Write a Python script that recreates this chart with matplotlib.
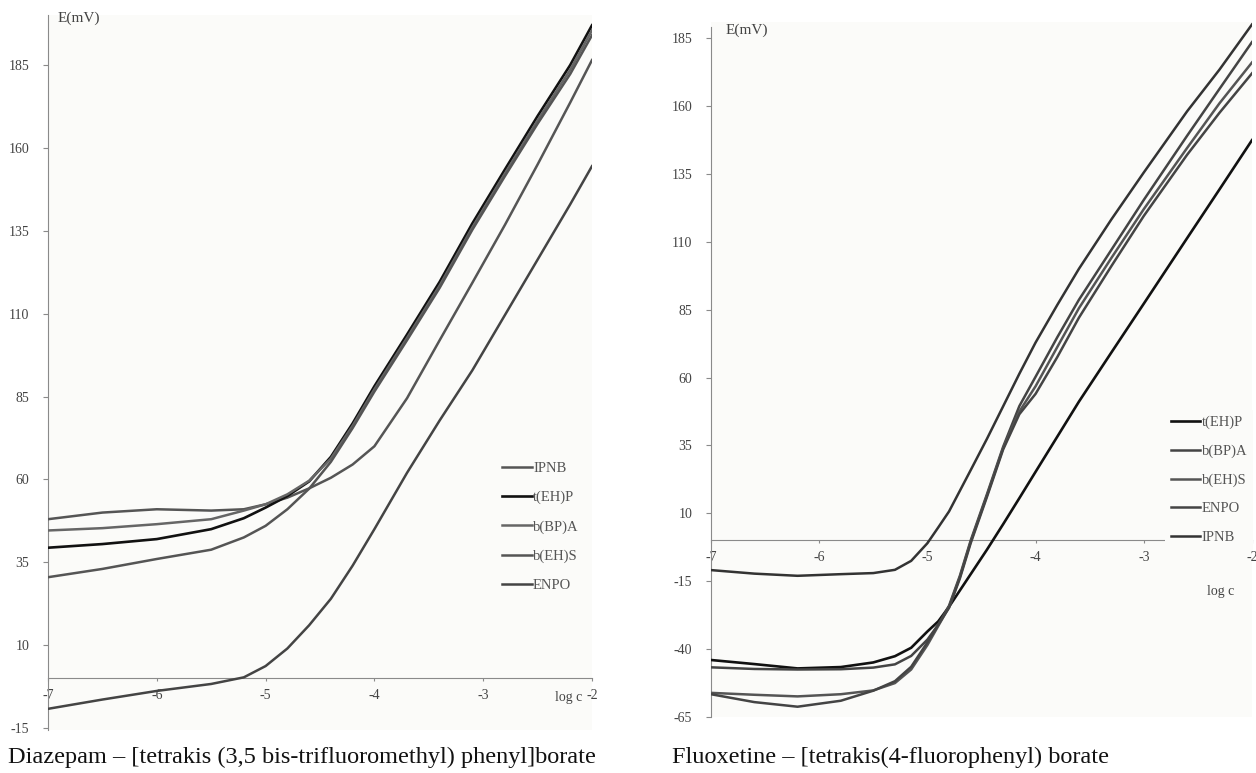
import matplotlib
matplotlib.use('agg')
import matplotlib.pyplot as plt

plt.rcParams['font.family'] = ['Liberation Serif', 'DejaVu Serif']
plt.rcParams['axes.unicode_minus'] = False

# log c grid and potentials (mV)
diaz_logc = [-7, -6.5, -6, -5.5, -5.2, -5.0, -4.8, -4.6, -4.4, -4.2, -4.0,
             -3.7, -3.4, -3.1, -2.8, -2.5, -2.2, -2.0]
diaz_ipnb = [48, 50, 51, 50.6, 51, 52.5, 54.5, 57.3, 60.5, 64.5, 70,
             84.5, 102, 119.3, 136.8, 155, 173.7, 186.5]
diaz_tehp = [39.4, 40.5, 42, 45, 48.3, 51.5, 55, 59.4, 66.8, 76.9, 88.1,
             103.7, 119.6, 137.2, 153.5, 169.6, 185, 197]
diaz_bbpa = [44.6, 45.3, 46.5, 48, 50.6, 52.5, 55.5, 59.6, 66.3, 76.2, 87.2,
             102.7, 118.5, 136, 152.3, 168.3, 183.6, 195.5]
diaz_behs = [30.5, 33, 36, 38.8, 42.5, 46, 51, 57.2, 65.3, 75.5, 86.5,
             102, 117.8, 135.3, 151.5, 167.3, 182.3, 194]
diaz_enpo = [-9.2, -6.4, -3.8, -1.7, 0.3, 3.7, 9, 16, 24, 34, 45,
             62, 77.8, 92.9, 109.6, 126.3, 143, 154.5]

fluox_logc = [-7, -6.6, -6.2, -5.8, -5.5, -5.3, -5.15, -5.0, -4.9, -4.8, -4.7,
              -4.6, -4.45, -4.3, -4.15, -4.0, -3.8, -3.6, -3.3, -3.0, -2.6, -2.3, -2.0]
fluox_tehp = [-44, -45.5, -47.1, -46.6, -44.9, -42.6, -39.5, -33.5, -29.8, -24.4, -18.4,
              -12.4, -3.4, 6, 15.6, 25.3, 38.2, 51.1, 69.2, 87.2, 111.3, 129.3, 147.4]
fluox_bbpa = [-46.7, -47.3, -47.5, -47.4, -46.8, -45.6, -42.5, -36.5, -31, -24, -13,
              0, 17, 34.5, 49.5, 60.3, 74.8, 88.6, 107, 125.4, 149, 166.3, 183.5]
fluox_behs = [-56.1, -56.8, -57.4, -56.6, -55.2, -52.5, -47.5, -38.5, -31.5, -24.5, -13.5,
              -0.5, 16.5, 34, 47.5, 56.8, 71.2, 85.5, 104, 122, 144.5, 161, 176]
fluox_enpo = [-56.6, -59.5, -61.2, -59, -55.3, -51.8, -46.5, -37.5, -31, -24.8, -14,
              -1, 16, 33.5, 46.5, 54, 67.5, 82, 101, 119.5, 142, 157.5, 172]
fluox_ipnb = [-10.9, -12.2, -13, -12.4, -12, -10.8, -7.5, -1, 4.8, 10.7, 18.3,
              25.9, 37.4, 49.4, 61.4, 72.9, 86.7, 100, 118.2, 135.5, 158, 173.4, 190]

x_ticks = [-7, -6, -5, -4, -3, -2]
x_labels = ['-7', '-6', '-5', '-4', '-3', '-2']
diaz_yticks = [-15, 10, 35, 60, 85, 110, 135, 160, 185]
fluox_yticks = [-65, -40, -15, 10, 35, 60, 85, 110, 135, 160, 185]

W, H = 1256, 773
fig = plt.figure(figsize=(W / 100, H / 100), dpi=100)
fig.patch.set_facecolor('white')

tick_col = '#444444'
leg_kw = dict(fontsize=10.5, handlelength=2.05, handletextpad=0.1,
              borderaxespad=0, labelcolor='#555555')


def style_axes(ax, ylim, yticks, top):
    ax.set_facecolor('#fbfbf9')
    ax.set_xlim(-7, -2)
    ax.set_ylim(*ylim)
    for s in ['top', 'right']:
        ax.spines[s].set_visible(False)
    ax.spines['left'].set_color('#8a8a8a')
    ax.spines['left'].set_bounds(ylim[0], top)
    ax.spines['bottom'].set_color('#8a8a8a')
    ax.spines['bottom'].set_position(('data', 0))
    ax.set_xticks(x_ticks)
    ax.set_xticklabels(x_labels)
    ax.set_yticks(yticks)
    ax.tick_params(axis='x', length=2.5, pad=5, color='#8a8a8a',
                   labelsize=10, labelcolor=tick_col)
    ax.tick_params(axis='y', length=3.6, pad=10, color='#8a8a8a',
                   labelsize=10, labelcolor=tick_col)


# left panel: Diazepam
ax1 = fig.add_axes([48 / W, 0.0560, 544 / W, 0.9242])
style_axes(ax1, (-15.5, 200), diaz_yticks, 200)
ax1.plot(diaz_logc, diaz_ipnb, color='#555555', lw=1.8, label='IPNB', zorder=3)
ax1.plot(diaz_logc, diaz_tehp, color='#111111', lw=1.9, label='t(EH)P', zorder=3)
ax1.plot(diaz_logc, diaz_bbpa, color='#666666', lw=1.8, label='b(BP)A', zorder=3)
ax1.plot(diaz_logc, diaz_behs, color='#555555', lw=1.8, label='b(EH)S', zorder=3)
ax1.plot(diaz_logc, diaz_enpo, color='#444444', lw=1.8, label='ENPO', zorder=3)
ax1.legend(loc='upper left', bbox_to_anchor=(501.7 / W, 1 - 461.4 / H),
           bbox_transform=fig.transFigure, frameon=False,
           labelspacing=1.1, borderpad=0, **leg_kw)
fig.text(58 / W, 1 - 18 / H, 'E(mV)', fontsize=11, color=tick_col, va='center')
fig.text(582 / W, 1 - 697 / H, 'log c', fontsize=10, color=tick_col,
         ha='right', va='center')

# right panel: Fluoxetine
ax2 = fig.add_axes([711 / W, 0.0724, 541 / W, 0.8995])
style_axes(ax2, (-65, 191), fluox_yticks, 189)
ax2.plot(fluox_logc, fluox_tehp, color='#111111', lw=1.9, label='t(EH)P', zorder=3)
ax2.plot(fluox_logc, fluox_bbpa, color='#444444', lw=1.8, label='b(BP)A', zorder=3)
ax2.plot(fluox_logc, fluox_behs, color='#555555', lw=1.8, label='b(EH)S', zorder=3)
ax2.plot(fluox_logc, fluox_enpo, color='#444444', lw=1.8, label='ENPO', zorder=3)
ax2.plot(fluox_logc, fluox_ipnb, color='#333333', lw=1.8, label='IPNB', zorder=3)
leg = ax2.legend(loc='upper left', bbox_to_anchor=(1164.7 / W, 1 - 410 / H),
                 bbox_transform=fig.transFigure, frameon=True, fancybox=False,
                 labelspacing=1.05, borderpad=0.4, **leg_kw)
leg.get_frame().set_facecolor('#fbfbf9')
leg.get_frame().set_edgecolor('none')
leg.get_frame().set_alpha(1)
fig.text(726 / W, 1 - 30 / H, 'E(mV)', fontsize=11, color=tick_col, va='center')
fig.text(1221 / W, 1 - 591 / H, 'log c', fontsize=10, color=tick_col,
         ha='center', va='center')

# captions
fig.text(8 / W, 1 - 757 / H,
         'Diazepam \u2013 [tetrakis (3,5 bis-trifluoromethyl) phenyl]borate',
         fontsize=17.5, color='#111111', va='center')
fig.text(672 / W, 1 - 757 / H,
         'Fluoxetine \u2013 [tetrakis(4-fluorophenyl) borate',
         fontsize=17.5, color='#111111', va='center')

fig.savefig('out.png', dpi=100)
